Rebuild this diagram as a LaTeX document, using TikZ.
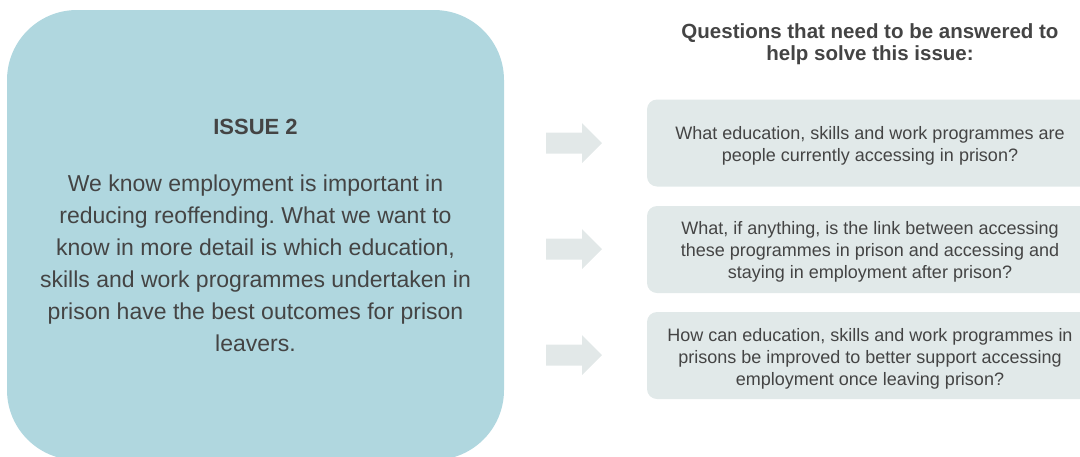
\documentclass[tikz,border=0pt]{standalone}
\usepackage{fontspec}
\setmainfont{Liberation Sans}
\frenchspacing
\definecolor{issueblue}{HTML}{B0D7DF}
\definecolor{qgray}{HTML}{E1E9E9}
\definecolor{arrowgray}{HTML}{E2E8E8}
\definecolor{ink}{HTML}{444444}
\begin{document}
\begin{tikzpicture}[x=1pt,y=-1pt,
  issuebox/.style={fill=issueblue, rounded corners=70pt, inner sep=0pt,
    minimum width=497pt, minimum height=450pt},
  qbox/.style={fill=qgray, rounded corners=10pt, inner sep=0pt,
    minimum width=460pt, minimum height=87pt},
  titletext/.style={text=ink, inner sep=0pt, font=\bfseries\fontsize{22}{26}\selectfont},
  bodytext/.style={text=ink, inner sep=0pt, align=center, font=\fontsize{23}{32}\selectfont},
  headtext/.style={text=ink, inner sep=0pt, align=center, font=\bfseries\fontsize{20.5}{21.5}\selectfont},
  qtext/.style={text=ink, inner sep=0pt, align=center, font=\fontsize{18}{22}\selectfont},
  blockarrow/.pic={\fill[arrowgray] (0,-10.5) -- (36,-10.5) -- (36,-20) -- (56,0)
    -- (36,20) -- (36,10.5) -- (0,10.5) -- cycle;}
]
\useasboundingbox (0,0) rectangle (1080,456);
\clip (0,0) rectangle (1080,456);

% issue panel on the left
\node[issuebox] (issue) at (255.5,235) {};
\node[titletext, anchor=base] (title) at (255.5,134) {ISSUE 2};
\node[bodytext] (body) at (255.5,263) {We know employment is important in\\
  reducing reoffending. What we want to\\
  know in more detail is which education,\\
  skills and work programmes undertaken in\\
  prison have the best outcomes for prison\\
  leavers.};

% heading of the question column
\node[headtext] (head) at (870,44.3) {Questions that need to be answered to\\
  help solve this issue:};

% question boxes
\node[qbox] (q1) at (877,143) {};
\node[qbox] (q2) at (877,249.5) {};
\node[qbox] (q3) at (877,355.5) {};

\node[qtext] (t1) at (870,145.5) {What education, skills and work programmes are\\
  people currently accessing in prison?};
\node[qtext] (t2) at (870,251.5) {What, if anything, is the link between accessing\\
  these programmes in prison and accessing and\\
  staying in employment after prison?};
\node[qtext] (t3) at (870,358.5) {How can education, skills and work programmes in\\
  prisons be improved to better support accessing\\
  employment once leaving prison?};

% arrows from the issue to each question
\pic at (546,143) {blockarrow};
\pic at (546,249) {blockarrow};
\pic at (546,355) {blockarrow};
\end{tikzpicture}
\end{document}
